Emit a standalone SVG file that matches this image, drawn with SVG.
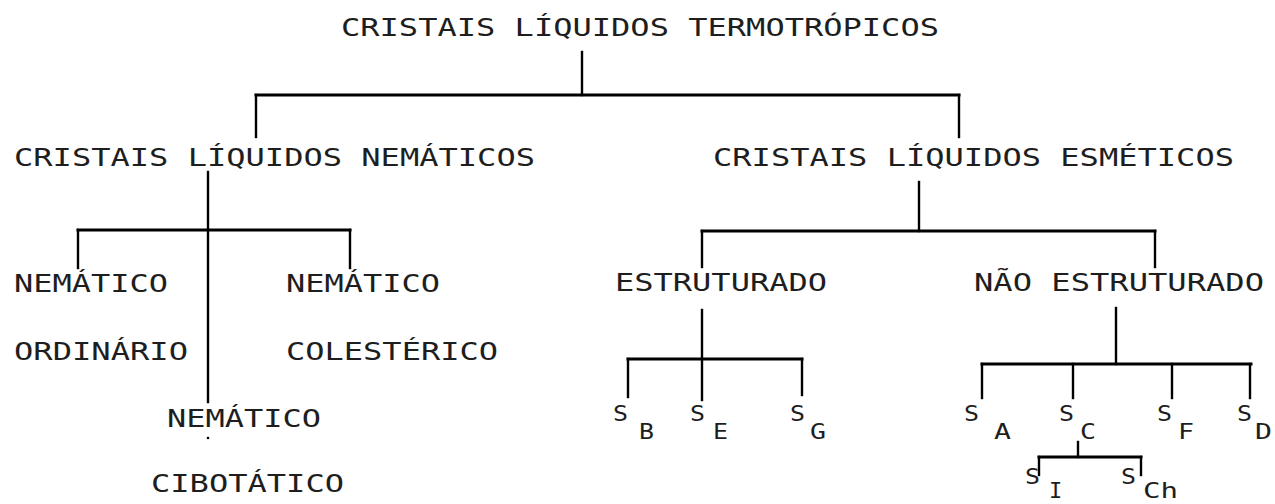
<svg xmlns="http://www.w3.org/2000/svg" width="1275" height="504" viewBox="0 0 1275 504">
<style>
.t{font-family:"DejaVu Sans Mono","Liberation Mono",monospace;font-size:24px;fill:#1e1e1e}
.s{font-family:"DejaVu Sans Mono","Liberation Mono",monospace;font-size:22px;fill:#1e1e1e}
.c line{stroke:#000;stroke-width:2.4;stroke-linecap:square}
.c line.h{stroke-width:3}
</style>
<rect width="1275" height="504" fill="#fff"/>
<g id="connectors" class="c">
<line x1="582" y1="52" x2="582" y2="95"/>
<line class="h" x1="256" y1="95" x2="959" y2="95"/>
<line x1="256" y1="95" x2="256" y2="137"/>
<line x1="959" y1="95" x2="959" y2="137"/>
<line x1="208" y1="172" x2="208" y2="402"/>
<line class="h" x1="78" y1="230" x2="350" y2="230"/>
<line x1="78" y1="230" x2="78" y2="268"/>
<line x1="350" y1="230" x2="350" y2="268"/>
<line x1="919" y1="182" x2="919" y2="231"/>
<line class="h" x1="702" y1="231" x2="1155" y2="231"/>
<line x1="702" y1="231" x2="702" y2="267"/>
<line x1="1155" y1="231" x2="1155" y2="267"/>
<line x1="702" y1="310" x2="702" y2="400"/>
<line class="h" x1="628" y1="359" x2="802" y2="359"/>
<line x1="628" y1="359" x2="628" y2="397"/>
<line x1="802" y1="359" x2="802" y2="395"/>
<line x1="1116" y1="308" x2="1116" y2="364"/>
<line class="h" x1="982" y1="364" x2="1251" y2="364"/>
<line x1="982" y1="364" x2="982" y2="398"/>
<line x1="1073" y1="364" x2="1073" y2="398"/>
<line x1="1172" y1="364" x2="1172" y2="398"/>
<line x1="1250" y1="364" x2="1250" y2="398"/>
<line x1="1078" y1="442" x2="1078" y2="457"/>
<line class="h" x1="1039" y1="457" x2="1141" y2="457"/>
<line x1="1039" y1="457" x2="1039" y2="475"/>
<line x1="1141" y1="457" x2="1141" y2="475"/>
<circle cx="208" cy="438" r="1.3" fill="#000"/>
</g>
<g id="n-termotropicos"><text class="t" x="341" y="36" textLength="598" lengthAdjust="spacingAndGlyphs">CRISTAIS LÍQUIDOS TERMOTRÓPICOS</text></g>
<g id="n-nematicos"><text class="t" x="14" y="166" textLength="521" lengthAdjust="spacingAndGlyphs">CRISTAIS LÍQUIDOS NEMÁTICOS</text></g>
<g id="n-esmeticos"><text class="t" x="713" y="166" textLength="521" lengthAdjust="spacingAndGlyphs">CRISTAIS LÍQUIDOS ESMÉTICOS</text></g>
<g id="n-ordinario"><text class="t" x="14" y="292" textLength="154" lengthAdjust="spacingAndGlyphs">NEMÁTICO</text><text class="t" x="14" y="360" textLength="174" lengthAdjust="spacingAndGlyphs">ORDINÁRIO</text></g>
<g id="n-colesterico"><text class="t" x="286" y="292" textLength="154" lengthAdjust="spacingAndGlyphs">NEMÁTICO</text><text class="t" x="286" y="360" textLength="212" lengthAdjust="spacingAndGlyphs">COLESTÉRICO</text></g>
<g id="n-cibotatico"><text class="t" x="167" y="427" textLength="154" lengthAdjust="spacingAndGlyphs">NEMÁTICO</text><text class="t" x="151" y="492" textLength="193" lengthAdjust="spacingAndGlyphs">CIBOTÁTICO</text></g>
<g id="n-estruturado"><text class="t" x="615" y="291" textLength="212" lengthAdjust="spacingAndGlyphs">ESTRUTURADO</text></g>
<g id="n-nao-estruturado"><text class="t" x="974" y="291" textLength="290" lengthAdjust="spacingAndGlyphs">NÃO ESTRUTURADO</text></g>
<g id="n-sb"><text class="s" x="613" y="421" textLength="15" lengthAdjust="spacingAndGlyphs">S</text><text class="s" x="639" y="439" textLength="15" lengthAdjust="spacingAndGlyphs">B</text></g>
<g id="n-se"><text class="s" x="690" y="421" textLength="15" lengthAdjust="spacingAndGlyphs">S</text><text class="s" x="713" y="439" textLength="15" lengthAdjust="spacingAndGlyphs">E</text></g>
<g id="n-sg"><text class="s" x="790" y="421" textLength="15" lengthAdjust="spacingAndGlyphs">S</text><text class="s" x="810" y="439" textLength="16" lengthAdjust="spacingAndGlyphs">G</text></g>
<g id="n-sa"><text class="s" x="964" y="421" textLength="15" lengthAdjust="spacingAndGlyphs">S</text><text class="s" x="994" y="439" textLength="17" lengthAdjust="spacingAndGlyphs">A</text></g>
<g id="n-sc"><text class="s" x="1059" y="421" textLength="15" lengthAdjust="spacingAndGlyphs">S</text><text class="s" x="1080" y="439" textLength="16" lengthAdjust="spacingAndGlyphs">C</text></g>
<g id="n-sf"><text class="s" x="1157" y="421" textLength="15" lengthAdjust="spacingAndGlyphs">S</text><text class="s" x="1178" y="439" textLength="16" lengthAdjust="spacingAndGlyphs">F</text></g>
<g id="n-sd"><text class="s" x="1237" y="421" textLength="15" lengthAdjust="spacingAndGlyphs">S</text><text class="s" x="1255" y="439" textLength="17" lengthAdjust="spacingAndGlyphs">D</text></g>
<g id="n-si"><text class="s" x="1025" y="484" textLength="15" lengthAdjust="spacingAndGlyphs">S</text><text class="s" x="1049" y="498">I</text></g>
<g id="n-sch"><text class="s" x="1121" y="484" textLength="15" lengthAdjust="spacingAndGlyphs">S</text><text class="s" x="1143" y="498" textLength="35" lengthAdjust="spacingAndGlyphs">Ch</text></g>
</svg>
